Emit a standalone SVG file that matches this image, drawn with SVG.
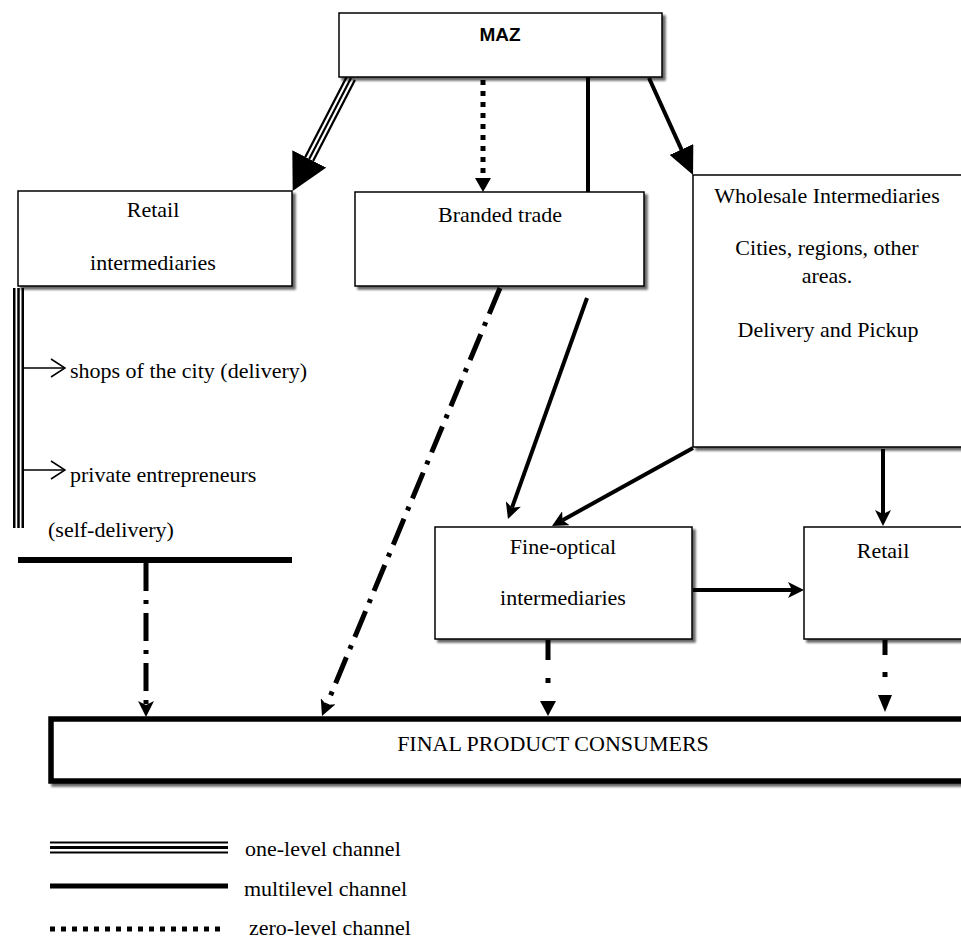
<svg xmlns="http://www.w3.org/2000/svg" width="961" height="941" viewBox="0 0 961 941">
<defs>
<filter id="sh" x="-5%" y="-5%" width="115%" height="120%">
<feDropShadow dx="3" dy="3" stdDeviation="1.2" flood-color="#000" flood-opacity="0.6"/>
</filter>
<marker id="ah" viewBox="0 0 16 16" refX="4" refY="8" markerWidth="16" markerHeight="16" markerUnits="userSpaceOnUse" orient="auto">
<path d="M0,0 L16,8 L0,16 L4,8 z" fill="#000"/>
</marker>
<marker id="big" viewBox="0 0 28 26" refX="2" refY="13" markerWidth="28" markerHeight="26" markerUnits="userSpaceOnUse" orient="auto">
<path d="M0,0 L28,13 L0,26 z" fill="#000"/>
</marker>
<marker id="huge" viewBox="0 0 36 38" refX="0" refY="19" markerWidth="36" markerHeight="38" markerUnits="userSpaceOnUse" orient="auto">
<path d="M0,0 L36,19 L0,38 z" fill="#000"/>
</marker>
<marker id="chev" viewBox="0 0 16 20" refX="15" refY="10" markerWidth="16" markerHeight="20" markerUnits="userSpaceOnUse" orient="auto">
<path d="M1,1 L15,10 L1,19" fill="none" stroke="#000" stroke-width="1.5"/>
</marker>
</defs>
<style>
.box{fill:#fff;stroke:#000;stroke-width:1.5;filter:url(#sh)}
.thick{stroke-width:5.5}
.t{font-family:"Liberation Serif","Times New Roman",serif;font-size:22px;fill:#000}
.c{text-anchor:middle}
.solid{fill:none;stroke:#000;stroke-width:4}
.dd{fill:none;stroke:#000;stroke-width:5;stroke-dasharray:28 9 4 9}
.dot{fill:none;stroke:#000;stroke-width:5;stroke-dasharray:5 6}
.tb{fill:none;stroke:#000}
.tw{fill:none;stroke:#fff}
</style>
<rect width="961" height="941" fill="#fff"/>

<g id="connectors">
<path class="tb" stroke-width="11" d="M351,78 L309.2,158.9"/>
<path class="tw" stroke-width="6.5" d="M351,78 L309.2,158.9"/>
<path class="tb" stroke-width="2.2" d="M351,78 L309.2,158.9"/>
<path d="M351,78 L309.2,158.9" stroke="none" fill="none" marker-end="url(#huge)"/>
<path class="dot" stroke-width="4" d="M483,80 L483,178"/>
<polygon points="475,178 491,178 483,192" fill="#000"/>
<path class="solid" d="M588,77 L588,192"/>
<path class="solid" stroke-width="7" d="M649,78 L682.3,151.3" marker-end="url(#big)"/>
<path class="tb" stroke-width="11" d="M18.5,288 L18.5,528"/>
<path class="tw" stroke-width="6" d="M18.5,288 L18.5,528"/>
<path class="tb" stroke-width="2.5" d="M18.5,288 L18.5,528"/>
<path fill="none" stroke="#000" stroke-width="1.5" d="M24,368 L65,368" marker-end="url(#chev)"/>
<path fill="none" stroke="#000" stroke-width="1.5" d="M24,470 L65,470" marker-end="url(#chev)"/>
<path fill="none" stroke="#000" stroke-width="6" d="M18,560 L292,560"/>
<path class="dd" d="M146,563 L146,705" marker-end="url(#ah)"/>
<path class="dd" d="M500,288 L326.6,704.9" marker-end="url(#ah)"/>
<path class="solid" d="M587,298 L512,507.7" marker-end="url(#ah)"/>
<path class="solid" d="M693,448 L562.5,520.2" marker-end="url(#ah)"/>
<path class="solid" d="M883,449 L883,514" marker-end="url(#ah)"/>
<path class="solid" stroke-width="5" d="M693,590 L792,590" marker-end="url(#ah)"/>
<path fill="none" stroke="#000" stroke-width="5" d="M548,640 L548,660 M548,678 L548,683"/>
<polygon points="540,701 556,701 548,716" fill="#000"/>
<path fill="none" stroke="#000" stroke-width="5" d="M885,640 L885,655 M885,672 L885,677"/>
<polygon points="878,695 892,695 885,712" fill="#000"/>
</g>

<g id="maz">
<rect class="box" x="339" y="13" width="323" height="64"/>
<text x="500" y="41" text-anchor="middle" font-family="'Liberation Sans',Arial,sans-serif" font-weight="bold" font-size="19">MAZ</text>
</g>
<g id="retail-intermediaries">
<rect class="box" x="18" y="191" width="274" height="95"/>
<text class="t c" x="153" y="217">Retail</text>
<text class="t c" x="153" y="270">intermediaries</text>
</g>
<g id="branded-trade">
<rect class="box" x="355" y="192" width="289" height="94"/>
<text class="t c" x="500" y="222">Branded trade</text>
</g>
<g id="wholesale">
<rect class="box" x="693" y="175" width="300" height="272"/>
<text class="t c" x="827" y="203">Wholesale Intermediaries</text>
<text class="t c" x="827" y="255">Cities, regions, other</text>
<text class="t c" x="827" y="283">areas.</text>
<text class="t c" x="828" y="337">Delivery and Pickup</text>
</g>
<g id="retail-list">
<text class="t" x="70" y="378">shops of the city (delivery)</text>
<text class="t" x="70" y="482">private entrepreneurs</text>
<text class="t" x="48" y="537">(self-delivery)</text>
</g>
<g id="fine-optical">
<rect class="box" x="435" y="527" width="257" height="112"/>
<text class="t c" x="563" y="554">Fine-optical</text>
<text class="t c" x="563" y="605">intermediaries</text>
</g>
<g id="retail">
<rect class="box" x="804" y="527" width="200" height="112"/>
<text class="t c" x="883" y="558">Retail</text>
</g>
<g id="final">
<rect class="box thick" x="51" y="719" width="960" height="62"/>
<text class="t c" x="553" y="751">FINAL PRODUCT CONSUMERS</text>
</g>

<g id="legend">
<path class="tb" stroke-width="12" d="M50,847.5 L228,847.5"/>
<path class="tw" stroke-width="8" d="M50,847.5 L228,847.5"/>
<path class="tb" stroke-width="3" d="M50,847.5 L228,847.5"/>
<text class="t" x="245" y="856">one-level channel</text>
<path fill="none" stroke="#000" stroke-width="5" d="M50,886 L228,886"/>
<text class="t" x="244" y="896">multilevel channel</text>
<path class="dot" d="M50,929 L220,929"/>
<text class="t" x="249" y="935">zero-level channel</text>
</g>
</svg>
